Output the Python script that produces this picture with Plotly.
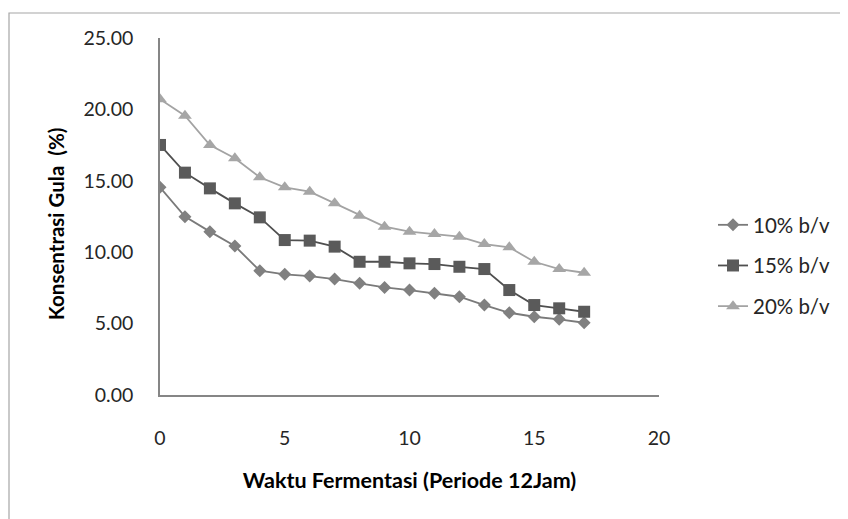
import plotly.graph_objects as go

periods = list(range(18))
s10 = [14.54, 12.49, 11.44, 10.43, 8.70, 8.45, 8.33, 8.12, 7.82, 7.53,
       7.35, 7.12, 6.88, 6.30, 5.76, 5.48, 5.30, 5.06]
s15 = [17.51, 15.57, 14.47, 13.42, 12.44, 10.85, 10.81, 10.39, 9.33, 9.33,
       9.22, 9.17, 8.98, 8.82, 7.35, 6.30, 6.07, 5.83]
s20 = [20.71, 19.56, 17.51, 16.58, 15.25, 14.54, 14.24, 13.42, 12.56, 11.79,
       11.44, 11.27, 11.09, 10.57, 10.34, 9.33, 8.82, 8.56]
names = ["10% b/v", "15% b/v", "20% b/v"]

FONT = "Lato"
W, H = 840, 511
L, T = 152, 30
PW, PH = 499, 357
R = W - L - PW
B = H - T - PH

fig = go.Figure()
fig.add_trace(go.Scatter(x=periods, y=s10, name=names[0], mode="lines+markers",
                         line=dict(color="#7a7a7a", width=1.8),
                         marker=dict(symbol="diamond", size=10, color="#808080"),
                         legendgroup="a"))
fig.add_trace(go.Scatter(x=periods, y=s15, name=names[1], mode="lines+markers",
                         line=dict(color="#4f4f4f", width=1.8),
                         marker=dict(symbol="square", size=12, color="#5a5a5a"),
                         legendgroup="b"))
fig.add_trace(go.Scatter(x=periods, y=s20, name=names[2], mode="lines+markers",
                         line=dict(color="#a3a3a3", width=1.8),
                         marker=dict(symbol="triangle-up", size=12, color="#a6a6a6"),
                         legendgroup="c"))

def px_x(p):
    return (p - L) / PW
def px_y(p):
    return (H - B - p) / PH

fig.update_layout(
    width=W, height=H,
    margin=dict(l=L, r=R, t=T, b=B),
    paper_bgcolor="white", plot_bgcolor="white",
    font=dict(family=FONT, size=19.5, color="#262626"),
    showlegend=True,
    legend=dict(x=px_x(705), xanchor="left", y=px_y(197), yanchor="top",
                traceorder="grouped", tracegroupgap=11,
                font=dict(family=FONT, size=20.5, color="#262626"),
                bgcolor="rgba(0,0,0,0)"),
    xaxis=dict(range=[0, 20], tickmode="linear", tick0=0, dtick=5,
               showgrid=False, zeroline=False, showline=True,
               linecolor="#868686", linewidth=1.5, ticks="",
               ticklabelstandoff=25,
               tickfont=dict(family=FONT, size=19.5, color="#262626"),
               title=dict(text="<b>Waktu Fermentasi (Periode 12Jam)</b>",
                          font=dict(family=FONT, size=21.5, color="#000000"),
                          standoff=25)),
    yaxis=dict(range=[0, 25], tickmode="linear", tick0=0, dtick=5,
               tickformat=".2f",
               showgrid=False, zeroline=False, showline=True,
               linecolor="#868686", linewidth=1.5, ticks="",
               ticklabelstandoff=21,
               tickfont=dict(family=FONT, size=19.5, color="#262626"),
               title=dict(text="<b>Konsentrasi Gula&nbsp; (%)&nbsp;&nbsp;&nbsp;</b>",
                          font=dict(family=FONT, size=20.5, color="#000000"),
                          standoff=13)),
    shapes=[dict(type="rect", xref="paper", yref="paper",
                 x0=px_x(1), x1=px_x(850), y0=px_y(520), y1=px_y(5),
                 line=dict(color="#a6a6a6", width=1.2), layer="below")],
)

fig.write_html("out.html")
